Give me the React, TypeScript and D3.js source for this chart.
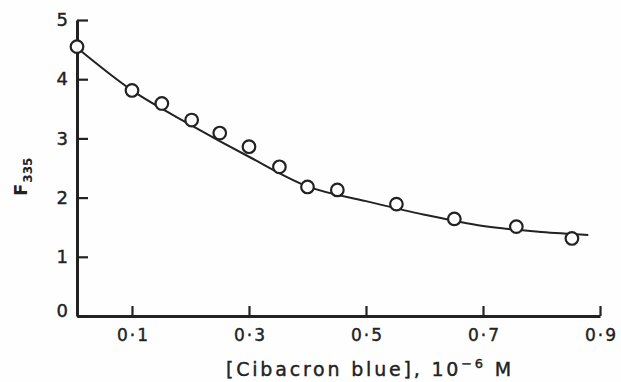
import { useEffect, useRef } from 'react';
import * as d3 from 'd3';

// measured points, F335 vs [Cibacron blue] (10^-6 M)
const pointX = [0.006, 0.1, 0.151, 0.202, 0.25, 0.3, 0.352, 0.4, 0.451, 0.552, 0.651, 0.757, 0.852];
const pointY = [4.55, 3.81, 3.59, 3.31, 3.09, 2.86, 2.52, 2.18, 2.13, 1.89, 1.64, 1.51, 1.31];

// fitted curve
const curveX = [0.006, 0.1, 0.2, 0.3, 0.4, 0.5, 0.6, 0.7, 0.8, 0.88];
const curveY = [4.53, 3.81, 3.23, 2.69, 2.19, 1.94, 1.71, 1.52, 1.42, 1.37];

const xTicks = [0.1, 0.3, 0.5, 0.7, 0.9];
const yTicks = [0, 1, 2, 3, 4, 5];

const WIDTH = 621;
const HEIGHT = 382;
const INK = '#222';
const FONT = "'DejaVu Sans', sans-serif";

export default function App() {
  const svgRef = useRef<SVGSVGElement>(null);

  useEffect(() => {
    if (!svgRef.current) return;
    const svg = d3.select(svgRef.current);
    svg.selectAll('*').remove();

    const x = d3.scaleLinear().domain([0.006, 0.9]).range([77, 600]);
    const y = d3.scaleLinear().domain([0, 5]).range([316, 20]);

    svg.append('rect').attr('width', WIDTH).attr('height', HEIGHT).attr('fill', '#fefefe');

    const fmt = (v: d3.NumberValue) => d3.format('.1f')(Number(v)).replace('.', '·');

    svg
      .append('g')
      .attr('transform', `translate(0,${y(0)})`)
      .call(
        d3.axisBottom(x).tickValues(xTicks).tickSizeInner(-10).tickSizeOuter(0).tickPadding(10).tickFormat(fmt)
      )
      .call((g) => {
        g.select('.domain').attr('stroke', INK).attr('stroke-width', 3);
        g.selectAll('.tick line').attr('stroke', INK).attr('stroke-width', 2.2);
        g.selectAll('.tick text')
          .attr('fill', INK)
          .attr('stroke', INK)
          .attr('stroke-width', 0.4)
          .attr('font-size', 17)
          .attr('letter-spacing', 2)
          .attr('font-family', FONT)
          .attr('dx', 1)
          .attr('dy', '0.9em');
      });

    svg
      .append('g')
      .attr('transform', `translate(${x(0.006)},0)`)
      .call(
        d3.axisLeft(y).tickValues(yTicks).tickSizeInner(-11).tickSizeOuter(0).tickPadding(9).tickFormat(d3.format('d'))
      )
      .call((g) => {
        g.select('.domain').attr('stroke', INK).attr('stroke-width', 3);
        g.selectAll('.tick line').attr('stroke', INK).attr('stroke-width', 2.2);
        g.selectAll('.tick text')
          .attr('fill', INK)
          .attr('stroke', INK)
          .attr('stroke-width', 0.4)
          .attr('font-size', 18)
          .attr('font-family', FONT)
          .attr('dy', (d) => (Number(d) === 0 ? '0' : '0.32em'));
      });

    const line = d3
      .line<number>()
      .x((_, i) => x(curveX[i]))
      .y((d) => y(d))
      .curve(d3.curveMonotoneX);

    svg
      .append('path')
      .attr('d', line(curveY))
      .attr('fill', 'none')
      .attr('stroke', INK)
      .attr('stroke-width', 2);

    svg
      .append('g')
      .selectAll('circle')
      .data(pointY)
      .join('circle')
      .attr('cx', (_, i) => x(pointX[i]))
      .attr('cy', (d) => y(d))
      .attr('r', 6.3)
      .attr('fill', '#fefefe')
      .attr('stroke', INK)
      .attr('stroke-width', 2.2);

    // y title: F335, rotated
    const yTitle = svg
      .append('text')
      .attr('transform', 'translate(27,196) rotate(-90)')
      .attr('fill', INK)
      .attr('font-family', FONT)
      .attr('font-weight', 'bold')
      .attr('font-size', 18);
    yTitle.append('tspan').text('F');
    yTitle.append('tspan').attr('font-size', 12).attr('dy', 5).attr('dx', 1).text('335');

    // x title
    const xTitle = svg
      .append('text')
      .attr('x', 370)
      .attr('y', 376)
      .attr('text-anchor', 'middle')
      .attr('fill', INK)
      .attr('stroke', INK)
      .attr('stroke-width', 0.4)
      .attr('font-family', FONT)
      .attr('font-size', 19)
      .attr('letter-spacing', 2.8);
    xTitle.append('tspan').text('[Cibacron blue], 10');
    xTitle.append('tspan').attr('font-size', 13).attr('dy', -8).text('−6');
    xTitle.append('tspan').attr('dy', 8).text(' M');
  }, []);

  return (
    <svg
      ref={svgRef}
      width={WIDTH}
      height={HEIGHT}
      viewBox={`0 0 ${WIDTH} ${HEIGHT}`}
      style={{ position: 'absolute', left: 0, top: 0, display: 'block' }}
    />
  );
}
